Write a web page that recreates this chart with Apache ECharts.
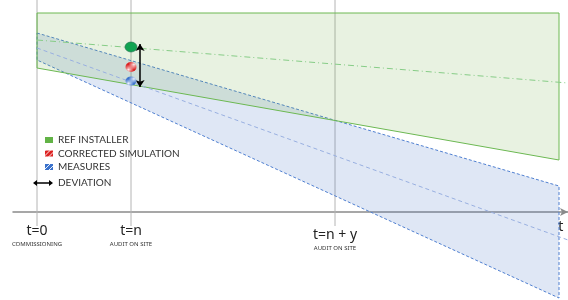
<!DOCTYPE html>
<html>
<head>
<meta charset="utf-8">
<script src="https://cdn.jsdelivr.net/npm/echarts@6/dist/echarts.min.js"></script>
<style>
  html, body { margin: 0; padding: 0; background: #fff; }
  #chart { width: 568px; height: 300px; }
</style>
</head>
<body>
<div id="chart"></div>
<script>
// time axis: 0 = commissioning, 94 = first audit, 298 = second audit
var timeTicks = [0, 94, 298];
var tickTitles = ['t=0', 't=n', 't=n + y'];
var tickNotes = ['COMMISSIONING', 'AUDIT ON SITE', 'AUDIT ON SITE'];

// REF INSTALLER band (green)
var bandTime = [0, 522];
var refUpper = [199, 199];
var refLower = [144, 52];
var midTime = [0, 531];
var refMid = [172, 129];

// MEASURES band (blue)
var measUpper = [179, 26];
var measLower = [152, -86];
var measMid = [164, -28];

// readings at t=n
var auditTime = 94;
var refPoint = 165;
var simPoint = 145;
var measPoint = 131;
var deviationTime = 103;
var deviation = [168, 125];

var guideTop = 212;
var guideBottom = -14;
var font = "Lato, 'Liberation Sans', sans-serif";

function stripes(color) {
  var c = document.createElement('canvas');
  c.width = 5; c.height = 5;
  var g = c.getContext('2d');
  g.fillStyle = color;
  g.fillRect(0, 0, 5, 5);
  g.strokeStyle = '#fff';
  g.lineWidth = 0.9;
  g.beginPath();
  g.moveTo(0, 5); g.lineTo(5, 0);
  g.moveTo(-1, 1); g.lineTo(1, -1);
  g.moveTo(4, 6); g.lineTo(6, 4);
  g.stroke();
  return { image: c, repeat: 'repeat' };
}

function bandPoints(upper, lower) {
  return [
    [bandTime[0], upper[0]], [bandTime[1], upper[1]],
    [bandTime[1], lower[1]], [bandTime[0], lower[0]]
  ];
}

function band(pts, style) {
  return {
    type: 'custom',
    silent: true,
    clip: false,
    z: 1,
    data: pts,
    renderItem: function (params, api) {
      if (params.dataIndex !== 0) return null;
      return {
        type: 'polygon',
        shape: { points: pts.map(function (p) { return api.coord(p); }) },
        style: style
      };
    }
  };
}

var guides = timeTicks.map(function (t) {
  return {
    type: 'line', silent: true, clip: false, z: 0, showSymbol: false,
    data: [[t, guideTop], [t, guideBottom]],
    lineStyle: { color: '#b4b4b4', width: 1 }
  };
});

var chart = echarts.init(document.getElementById('chart'));

chart.setOption({
  animation: false,
  grid: { left: 13, right: 0, top: 0, bottom: 88, outerBoundsMode: 'none', containLabel: false },
  xAxis: {
    type: 'value',
    min: -24,
    max: 531,
    axisLine: {
      symbol: ['none', 'arrow'],
      symbolSize: [6, 8],
      lineStyle: { color: '#8a8a8a', width: 1.5 }
    },
    axisTick: { show: false },
    splitLine: { show: false },
    axisLabel: {
      customValues: timeTicks,
      margin: 11,
      formatter: function (value) {
        var i = timeTicks.indexOf(value);
        var head = i === 2 ? '{sp|}\n' : '';
        return head + '{big|' + tickTitles[i] + '}\n{small|' + tickNotes[i] + '}';
      },
      rich: {
        sp: { fontSize: 1, lineHeight: 4 },
        big: { fontSize: 14, lineHeight: 16, color: '#222', fontFamily: 'Noto Sans' },
        small: { fontSize: 6, lineHeight: 10, color: '#333', fontFamily: 'Noto Sans' }
      }
    },
    name: 't',
    nameLocation: 'end',
    nameGap: -10,
    nameTextStyle: {
      fontSize: 15, color: '#222', fontFamily: 'Noto Sans',
      verticalAlign: 'top', padding: [7, 0, 0, 0]
    }
  },
  yAxis: { type: 'value', min: 0, max: 212, show: false },
  legend: [{
    data: [
      { name: 'REF INSTALLER', itemStyle: { color: '#62b346', borderWidth: 0 } },
      { name: 'CORRECTED SIMULATION' },
      { name: 'MEASURES' }
    ],
    orient: 'vertical',
    left: 45,
    top: 135,
    padding: 0,
    itemWidth: 8,
    itemHeight: 6,
    itemGap: 3.5,
    icon: 'rect',
    selectedMode: false,
    textStyle: { fontSize: 10, color: '#333', fontFamily: font }
  }, {
    data: [{ name: 'DEVIATION', icon: 'path://M0,3L4,0L4,2.3L16,2.3L16,0L20,3L16,6L16,3.7L4,3.7L4,6Z' }],
    left: 33,
    top: 178,
    padding: 0,
    itemWidth: 20,
    itemHeight: 6,
    selectedMode: false,
    textStyle: { fontSize: 10, color: '#333', fontFamily: font }
  }],
  series: guides.concat([
    band(bandPoints(measUpper, measLower), {
      fill: 'rgba(68,114,196,0.17)', stroke: '#4f7fd0', lineWidth: 1, lineDash: [3, 2]
    }),
    band(bandPoints(refUpper, refLower), {
      fill: 'rgba(112,173,71,0.16)', stroke: '#6cb852', lineWidth: 1
    }),
    {
      type: 'line', silent: true, clip: false, z: 2, showSymbol: false,
      data: [[midTime[0], refMid[0]], [midTime[1], refMid[1]]],
      lineStyle: { color: '#86cc86', width: 1, type: [6, 3, 1, 3] }
    },
    {
      type: 'line', silent: true, clip: false, z: 2, showSymbol: false,
      data: [[midTime[0], measMid[0]], [midTime[1], measMid[1]]],
      lineStyle: { color: '#98afe0', width: 1, type: [4, 3] }
    },
    {
      name: 'REF INSTALLER', type: 'scatter', z: 5,
      symbol: 'circle', symbolSize: [12, 10],
      itemStyle: { color: '#10a351', borderColor: '#1f6e4e', borderWidth: 0.6, opacity: 1 },
      data: [[auditTime, refPoint]]
    },
    {
      name: 'CORRECTED SIMULATION', type: 'scatter', z: 5,
      symbol: 'circle', symbolSize: [11, 10],
      itemStyle: { color: stripes('#dc2222'), opacity: 1 },
      data: [[auditTime, simPoint]]
    },
    {
      name: 'MEASURES', type: 'scatter', z: 5,
      symbol: 'circle', symbolSize: [11, 9],
      itemStyle: { color: stripes('#3a72cc'), opacity: 1 },
      data: [[auditTime, measPoint]]
    },
    {
      name: 'DEVIATION', type: 'line', z: 6, data: [],
      itemStyle: { color: '#000' },
      lineStyle: { color: '#000' },
      markLine: {
        silent: true, symbol: ['arrow', 'arrow'], symbolSize: 7,
        label: { show: false },
        lineStyle: { color: '#000', type: 'solid', width: 1.5 },
        data: [[{ coord: [deviationTime, deviation[0]] }, { coord: [deviationTime, deviation[1]] }]]
      }
    }
  ])
});
</script>
</body>
</html>
